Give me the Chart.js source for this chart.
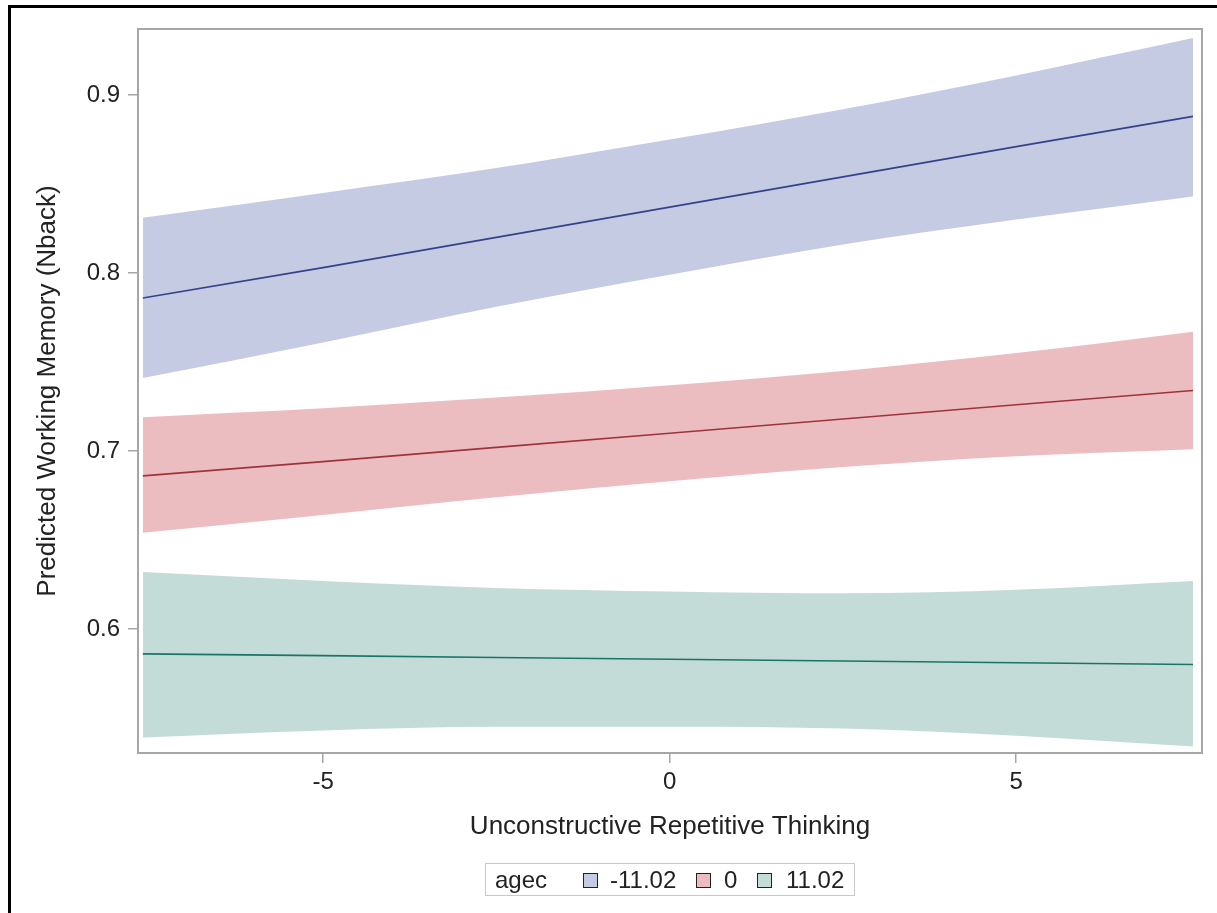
<!DOCTYPE html>
<html>
<head>
<meta charset="utf-8">
<script src="https://cdn.jsdelivr.net/npm/chart.js"></script>
<style>
  html, body { margin: 0; padding: 0; background: #fff; }
  #wrap { position: relative; width: 1217px; height: 913px; overflow: hidden; }
  #frame { position: absolute; left: 8px; top: 5px; width: 1300px; height: 1000px; border-left: 3px solid #000; border-top: 3px solid #000; box-sizing: border-box; }
  #cv { position: absolute; left: 0; top: 0; }
  #legend { position: absolute; left: 485px; top: 863px; width: 370px; height: 33px; border: 1px solid #c8c8c8; box-sizing: border-box;
            font-family: "Liberation Sans", Arial, sans-serif; font-size: 24px; color: #222; }
  #legend span { position: absolute; top: 2px; line-height: 28px; }
  #legend .sw { position: absolute; top: 9px; width: 15px; height: 15px; border: 1px solid #222; box-sizing: border-box; }
</style>
</head>
<body>
<div id="wrap">
  <canvas id="cv" width="1217" height="913"></canvas>
  <div id="frame"></div>
  <div id="legend"></div>
</div>
<script>
// ---- data ----
const xValues = [-7.6, -5, -2.5, 0, 2.5, 5, 7.55];
const groupLabels = ["-11.02", "0", "11.02"];
const legendTitle = "agec";

const blueFit   = [0.786, 0.803, 0.820, 0.837, 0.854, 0.871, 0.888];
const blueUpper = [0.831, 0.845, 0.859, 0.875, 0.892, 0.911, 0.932];
const blueLower = [0.741, 0.761, 0.781, 0.799, 0.816, 0.830, 0.843];

const redFit    = [0.686, 0.694, 0.702, 0.710, 0.718, 0.726, 0.734];
const redUpper  = [0.719, 0.724, 0.730, 0.737, 0.745, 0.755, 0.767];
const redLower  = [0.654, 0.664, 0.674, 0.683, 0.691, 0.697, 0.701];

const greenFit   = [0.586, 0.585, 0.584, 0.583, 0.582, 0.581, 0.580];
const greenUpper = [0.632, 0.627, 0.623, 0.621, 0.620, 0.622, 0.627];
const greenLower = [0.539, 0.543, 0.545, 0.545, 0.544, 0.540, 0.534];

const xTicks = [-5, 0, 5];
const yTicks = [0.6, 0.7, 0.8, 0.9];
const xTitle = "Unconstructive Repetitive Thinking";
const yTitle = "Predicted Working Memory (Nback)";

// ---- styling ----
const fills = ["#c5cbe2", "#ecbdc0", "#c3dcd8"];
const lines = ["#34428c", "#9e3439", "#1a7566"];
const FONT = '"Liberation Sans", Arial, sans-serif';
const AXIS = "#a6a6a6";

const pts = (ys) => xValues.map((x, i) => ({ x: x, y: ys[i] }));
const groups = [
  [blueFit, blueUpper, blueLower],
  [redFit, redUpper, redLower],
  [greenFit, greenUpper, greenLower]
];
const datasets = [];
groups.forEach((g, k) => {
  datasets.push({ label: groupLabels[k] + " fit", data: pts(g[0]), borderColor: lines[k], borderWidth: 1.6,
                  pointRadius: 0, fill: false, order: 0, tension: 0 });
});
groups.forEach((g, k) => {
  const upIdx = datasets.length;
  datasets.push({ label: groupLabels[k] + " upper", data: pts(g[1]), borderWidth: 0, borderColor: "rgba(0,0,0,0)",
                  backgroundColor: fills[k], pointRadius: 0, fill: upIdx + 1, order: 1, cubicInterpolationMode: "monotone" });
  datasets.push({ label: groupLabels[k] + " lower", data: pts(g[2]), borderWidth: 0, borderColor: "rgba(0,0,0,0)",
                  pointRadius: 0, fill: false, order: 1, cubicInterpolationMode: "monotone" });
});

const framePlugin = {
  id: "frame",
  afterDraw(chart) {
    const a = chart.chartArea, ctx = chart.ctx;
    ctx.save();
    ctx.strokeStyle = AXIS;
    ctx.lineWidth = 2;
    ctx.strokeRect(a.left, a.top, a.right - a.left, a.bottom - a.top);
    ctx.restore();
  }
};

new Chart(document.getElementById("cv"), {
  type: "line",
  data: { datasets: datasets },
  options: {
    responsive: false,
    animation: false,
    events: [],
    layout: { padding: { top: 29, right: 15, left: 0, bottom: 0 } },
    plugins: { legend: { display: false }, tooltip: { enabled: false } },
    scales: {
      x: {
        type: "linear", min: -7.67, max: 7.68,
        afterBuildTicks: (s) => { s.ticks = xTicks.map(v => ({ value: v })); },
        afterFit: (s) => { s.height = 160; },
        grid: { drawOnChartArea: false, drawTicks: true, tickLength: 10, color: AXIS, lineWidth: 1.5 },
        border: { display: true, color: AXIS, width: 2 },
        ticks: { color: "#222", font: { family: FONT, size: 24 }, padding: 5, maxRotation: 0,
                 callback: (v) => String(v) },
        title: { display: true, text: xTitle, color: "#222", font: { family: FONT, size: 26 },
                 padding: { top: 0, bottom: 71 } }
      },
      y: {
        type: "linear", min: 0.5303, max: 0.9371,
        afterBuildTicks: (s) => { s.ticks = yTicks.map(v => ({ value: v })); },
        afterFit: (s) => { s.width = 138; },
        grid: { drawOnChartArea: false, drawTicks: true, tickLength: 10, color: AXIS, lineWidth: 1.5 },
        border: { display: true, color: AXIS, width: 2 },
        ticks: { color: "#222", font: { family: FONT, size: 24 }, padding: 8,
                 callback: (v) => v.toFixed(1) },
        title: { display: true, text: yTitle, color: "#222", font: { family: FONT, size: 26 },
                 padding: { top: 32, bottom: 0 } }
      }
    }
  },
  plugins: [framePlugin]
});

// ---- legend ----
const lg = document.getElementById("legend");
const t = document.createElement("span"); t.textContent = legendTitle; t.style.left = "9px"; lg.appendChild(t);
const swX = [97, 210, 271];
const txX = [124, 238, 300];
groupLabels.forEach((lab, k) => {
  const sw = document.createElement("div"); sw.className = "sw"; sw.style.left = swX[k] + "px"; sw.style.background = fills[k];
  lg.appendChild(sw);
  const s = document.createElement("span"); s.textContent = lab; s.style.left = txX[k] + "px"; lg.appendChild(s);
});
</script>
</body>
</html>
